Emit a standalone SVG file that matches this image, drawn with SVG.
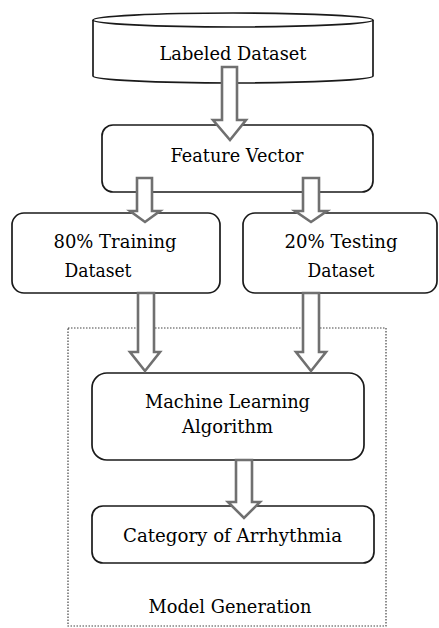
<svg xmlns="http://www.w3.org/2000/svg" width="439" height="628" viewBox="0 0 439 628">
<style>
.box{fill:#fff;stroke:#1a1a1a;stroke-width:1.7}
.t{font-family:'DejaVu Serif',serif;font-size:19px;fill:#000;text-anchor:middle}
.arr{fill:#fff;stroke:#707070;stroke-width:2.6;stroke-linejoin:miter}
.dot{fill:none;stroke:#444;stroke-width:1.2;stroke-dasharray:1.5 1.5}
</style>
<rect width="439" height="628" fill="#fff"/>
<g id="model-generation">
<rect class="dot" x="68" y="328" width="318" height="298"/>
<text class="t" x="230" y="613" textLength="163" lengthAdjust="spacingAndGlyphs">Model Generation</text>
</g>
<g id="labeled-dataset">
<path class="box" d="M93,20 L93,76 A140,7 0 0 0 373,76 L373,20"/>
<ellipse class="box" cx="233" cy="20" rx="140" ry="7"/>
<text class="t" x="233" y="60" textLength="147" lengthAdjust="spacingAndGlyphs">Labeled Dataset</text>
</g>
<g id="feature-vector">
<rect class="box" x="102" y="125" width="271" height="67" rx="11"/>
<text class="t" x="237" y="162" textLength="133" lengthAdjust="spacingAndGlyphs">Feature Vector</text>
</g>
<g id="training">
<rect class="box" x="12" y="213" width="208" height="80" rx="12"/>
<text class="t" x="115" y="248" textLength="123" lengthAdjust="spacingAndGlyphs">80% Training</text>
<text class="t" x="98" y="277" textLength="67" lengthAdjust="spacingAndGlyphs">Dataset</text>
</g>
<g id="testing">
<rect class="box" x="243" y="213" width="194" height="80" rx="12"/>
<text class="t" x="341" y="248" textLength="113" lengthAdjust="spacingAndGlyphs">20% Testing</text>
<text class="t" x="341" y="277" textLength="67" lengthAdjust="spacingAndGlyphs">Dataset</text>
</g>
<g id="ml-algorithm">
<rect class="box" x="92" y="373" width="272" height="87" rx="15"/>
<text class="t" x="227.5" y="408" textLength="165" lengthAdjust="spacingAndGlyphs">Machine Learning</text>
<text class="t" x="227.5" y="433" textLength="91" lengthAdjust="spacingAndGlyphs">Algorithm</text>
</g>
<g id="category">
<rect class="box" x="92" y="506" width="282" height="57" rx="11"/>
<text class="t" x="232.5" y="542" textLength="219" lengthAdjust="spacingAndGlyphs">Category of Arrhythmia</text>
</g>
<g id="connectors">
<polygon class="arr" points="222,67 237,67 237,120 246,120 230,140 213,120 222,120"/>
<polygon class="arr" points="137,178 152,178 152,211 160,211 145,222 130,211 137,211"/>
<polygon class="arr" points="303,178 319,178 319,211 327,211 311,222 295,211 303,211"/>
<polygon class="arr" points="138,293 154,293 154,352 160,352 145,371 130,352 138,352"/>
<polygon class="arr" points="303,293 319,293 319,352 326,352 311,371 296,352 303,352"/>
<polygon class="arr" points="236,460 252,460 252,502 260,502 244,518 228,502 236,502"/>
</g>
</svg>
